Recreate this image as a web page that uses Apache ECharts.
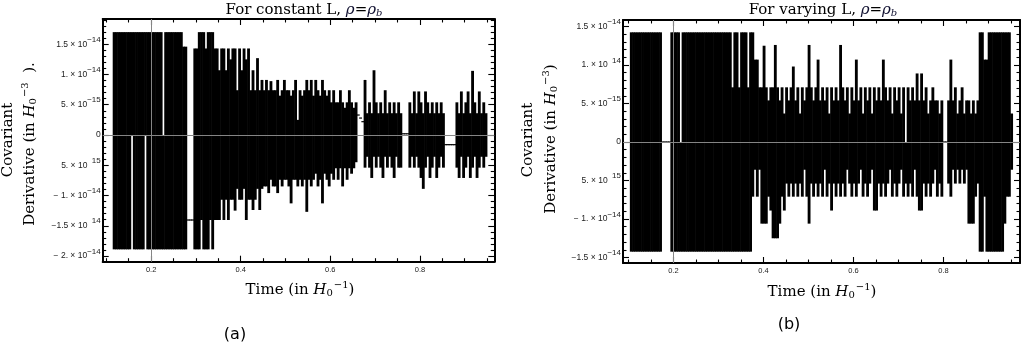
<!DOCTYPE html>
<html><head><meta charset="utf-8">
<script src="https://cdn.jsdelivr.net/npm/echarts/dist/echarts.min.js"></script>
<style>html,body{margin:0;padding:0;background:#fff}#c{width:1029px;height:350px}</style>
</head><body><div id="c"></div>
<script>
// ---------- data (y values in units of 10^-15, H0^-3) ----------
const tStartA = 0.1175, tStepA = 0.005;   // sample times, panel (a)
const tStartB = 0.1064, tStepB = 0.005;   // sample times, panel (b)

// panel (a): upper / lower excursion in each sample window
const upA = [
17,17,17,17,17,17,17,17,17,17,
17,17,17,17,17,17,17,17,17,17,
17,17,0,17,17,17,17,17,17,17,
17,14.6,14.6,-14.05,-14.05,-14.05,14.3,14.3,17,17,
17,14.3,17,17,17,14.3,14.3,10.7,14.3,14.3,
10.7,14.3,12.5,14.3,14.3,7.4,14.3,10.7,14.3,12.5,
14.3,7.4,10.7,7.4,12.7,7.4,9.1,7.4,9.1,7.4,
8.9,7.4,7.4,9.1,6.5,7.4,9.1,7.4,7.4,6.5,
7.4,9.1,2.5,7.4,6.5,7.4,9.1,7.4,9.1,6.5,
9.1,7.4,6.5,9.1,7.4,6.5,7.4,5.4,7.4,5.4,
5.4,7.4,5.4,4.5,5.4,7.4,5.4,4.5,5.4,3.3,
2.8,2.2,9.1,3.6,5.4,3.6,10.7,5.4,3.6,5.4,
3.6,7.4,3.6,5.4,3.6,5.4,3.6,5.4,3.6,0.2,
0.2,0.2,5.4,3.6,7.2,3.6,7.2,5.4,3.6,7.2,
5.4,3.6,5.4,3.6,5.4,3.6,5.4,3.6,-1.6,-1.6,
-1.6,-1.6,-1.6,5.4,3.6,7.2,3.6,5.4,7.2,3.6,
10.6,5.4,3.6,7.2,3.6,5.4,3.6
];
const loA = [
-18.9,-18.9,-18.9,-18.9,-18.9,-18.9,-18.9,-18.9,0,-18.9,
-18.9,-18.9,-18.9,-18.9,0,-18.9,-18.9,-18.9,-18.9,-18.9,
-18.9,-18.9,-18.9,-18.9,-18.9,-18.9,-18.9,-18.9,-18.9,-18.9,
-18.9,-18.9,-18.9,-14.05,-14.05,-14.05,-18.9,-18.9,-18.9,-14.05,
-18.9,-18.9,-18.9,-14.05,-18.9,-14.05,-14.05,-14.05,-10.7,-14.05,
-10.7,-14.05,-10.7,-10.7,-12.5,-8.9,-10.7,-10.7,-8.9,-14.05,
-10.7,-10.7,-12.4,-10.7,-8.9,-12.4,-8.9,-8.5,-8.5,-9.6,
-7.4,-8.5,-8.5,-9.6,-7.4,-8.5,-7.4,-7.4,-8.5,-11.3,
-7.4,-7.4,-8.5,-7.4,-8.5,-7.4,-12.7,-7.4,-8.5,-7.4,
-6.4,-8.5,-7.4,-11.3,-6.4,-7.4,-8.5,-6.4,-7.4,-5.5,
-7.4,-5.5,-8.5,-5.5,-7.4,-5.5,-6.4,-5.5,-4.5,3.3,
2.8,2.2,-5.4,-3.6,-5.4,-7.1,-3.6,-5.4,-3.6,-5.4,
-7.1,-3.6,-5.4,-3.6,-5.4,-7.1,-3.6,-5.4,-5.4,0.2,
0.2,0.2,-5.4,-3.6,-5.4,-3.6,-5.4,-7.1,-8.9,-5.4,
-3.6,-7.1,-5.4,-3.6,-7.1,-5.4,-3.6,-5.4,-1.6,-1.6,
-1.6,-1.6,-1.6,-5.4,-7.1,-3.6,-7.1,-5.4,-3.6,-7.1,
-5.4,-3.6,-7.1,-5.4,-3.6,-5.4,-3.6
];

// panel (b)
const upB = [
14.24,14.24,14.24,14.24,14.24,14.24,14.24,14.24,14.24,14.24,
14.24,14.24,14.24,14.24,0,0,0,0,14.24,14.24,
14.24,14.24,0,14.24,14.24,14.24,14.24,14.24,14.24,14.24,
14.24,14.24,14.24,14.24,14.24,14.24,14.24,14.24,14.24,14.24,
14.24,14.24,14.24,14.24,14.24,7.1,14.24,14.24,7.1,14.24,
14.24,14.24,7.1,14.24,14.24,10.7,10.7,7.1,7.1,12.5,
7.1,5.4,7.1,7.1,12.6,7.1,5.4,7.1,3.7,7.1,
5.4,7.1,9.8,5.4,7.1,3.7,7.1,5.4,7.1,12.6,
7.1,5.4,7.1,10.7,5.4,7.1,5.4,7.1,3.7,7.1,
5.4,7.1,5.4,12.6,7.1,5.4,7.1,3.7,7.1,5.4,
10.7,5.4,7.1,3.7,7.1,5.4,7.1,3.7,7.1,5.4,
7.1,5.4,10.7,7.1,5.4,7.1,3.7,7.1,5.4,7.1,
3.7,7.1,0,7.1,5.4,7.1,5.4,8.9,5.4,8.9,
5.4,7.1,3.7,5.4,7.1,5.4,5.4,3.7,5.4,0,
0,5.4,10.7,5.4,7.1,3.7,5.4,7.1,3.7,5.4,
5.4,3.7,5.4,3.7,5.4,14.24,14.24,10.7,10.7,14.24,
14.24,14.24,14.24,14.24,14.24,14.24,14.24,14.24,14.24,3.7
];
const loB = [
-14.24,-14.24,-14.24,-14.24,-14.24,-14.24,-14.24,-14.24,-14.24,-14.24,
-14.24,-14.24,-14.24,-14.24,0,0,0,0,-14.24,-14.24,
-14.24,-14.24,-14.24,-14.24,-14.24,-14.24,-14.24,-14.24,-14.24,-14.24,
-14.24,-14.24,-14.24,-14.24,-14.24,-14.24,-14.24,-14.24,-14.24,-14.24,
-14.24,-14.24,-14.24,-14.24,-14.24,-14.24,-14.24,-14.24,-14.24,-14.24,
-14.24,-14.24,-14.24,-14.24,-7.1,-3.6,-7.1,-3.6,-10.6,-10.6,
-10.6,-7.1,-8.9,-12.5,-12.5,-12.5,-10.6,-7.1,-8.9,-5.4,
-7.1,-5.4,-7.1,-5.4,-7.1,-5.4,-7.1,-3.6,-7.1,-10.6,
-5.4,-7.1,-5.4,-7.1,-5.4,-7.1,-3.6,-7.1,-5.4,-8.9,
-5.4,-7.1,-5.4,-7.1,-5.4,-7.1,-3.6,-5.4,-7.1,-5.4,
-7.1,-5.4,-3.6,-7.1,-5.4,-7.1,-5.4,-3.6,-8.9,-8.9,
-5.4,-7.1,-5.4,-7.1,-5.4,-3.6,-7.1,-5.4,-7.1,-5.4,
-3.6,-7.1,-5.4,-7.1,-5.4,-7.1,-3.6,-7.1,-8.9,-8.9,
-5.4,-7.1,-5.4,-7.1,-5.4,-3.6,-7.1,-5.4,-7.1,0,
0,-5.4,-7.1,-3.6,-5.4,-3.6,-5.4,-3.6,-5.4,-3.6,
-10.6,-10.6,-10.6,-7.1,-5.4,-14.24,-14.24,-7.1,-14.24,-14.24,
-14.24,-14.24,-14.24,-14.24,-14.24,-14.24,-10.6,-7.1,-7.1,-3.6
];

// ---------- ticks ----------
const xMajorTicks = [0.2, 0.4, 0.6, 0.8];
const xTickLabels = ['0.2', '0.4', '0.6', '0.8'];
const xMinorTicks = [0.1,0.15,0.25,0.3,0.35,0.45,0.5,0.55,0.65,0.7,0.75,0.85,0.9,0.95];

const yTicksA = [15, 10, 5, 0, -5, -10, -15, -20];
const yBaseA  = ['1.5 × 10','1. × 10','5. × 10','0','5. × 10','− 1. × 10','−1.5 × 10','− 2. × 10'];
const yExpA   = ['−14','−14','−15','','  15','−14','  14','−14'];
const yTicksB = [15, 10, 5, 0, -5, -10, -15];
const yBaseB  = ['1.5 × 10','1. × 10','5. × 10','0','5. × 10','− 1. × 10','−1.5 × 10'];
const yExpB   = ['−14','  14','−15','','  15','−14','−14'];

const rangeXA = [0.092, 0.966], rangeYA = [-20.94, 19.17];
const rangeXB = [0.088, 0.970], rangeYB = [-15.71, 15.84];

// ---------- build ----------
function minorY(r) {
  const out = [];
  for (let v = Math.ceil(r[0]); v <= Math.floor(r[1]); v++) if (v % 5 !== 0) out.push(v);
  return out;
}
const SANS = 'Liberation Sans';
const SERIF = 'DejaVu Serif';
const xAxes = [], yAxes = [];
function addAxes(gi, xr, yr, yT, yB, yE) {
  const tickStyle = {color: '#000', width: 1.1};
  const frame = {show: true, onZero: false, lineStyle: {color: '#000', width: 2}};
  const noLine = {show: false, onZero: false};
  const bx = (pos, line, ticks, len, label) => ({
    type: 'value', gridIndex: gi, min: xr[0], max: xr[1], position: pos, silent: true,
    splitLine: {show: false}, axisLine: line,
    axisTick: {show: true, inside: true, length: len, customValues: ticks, lineStyle: tickStyle},
    axisLabel: label ? {show: true, customValues: xMajorTicks, margin: 4, fontSize: 7.5, fontFamily: SANS, color: '#222',
      formatter: v => { const k = xMajorTicks.findIndex(t => Math.abs(t - v) < 1e-9); return k < 0 ? '' : xTickLabels[k]; }} : {show: false}
  });
  const by = (pos, line, ticks, len, label) => ({
    type: 'value', gridIndex: gi, min: yr[0], max: yr[1], position: pos, silent: true,
    splitLine: {show: false}, axisLine: line,
    axisTick: {show: true, inside: true, length: len, customValues: ticks, lineStyle: tickStyle},
    axisLabel: label ? {show: true, customValues: yT, margin: 2, color: '#222',
      formatter: v => { const k = yT.findIndex(t => Math.abs(t - v) < 1e-9); if (k < 0) return '';
        return yE[k] ? '{b|' + yB[k] + '}{e|' + yE[k] + '}' : '{b|' + yB[k] + '}'; },
      rich: {
        b: {fontSize: 8.5, fontFamily: SANS, color: '#222'},
        e: {fontSize: 8, fontFamily: SANS, color: '#222', padding: [0, 0, 9, 0]}
      }} : {show: false}
  });
  const yMin = minorY(yr);
  xAxes.push(bx('bottom', frame, xMajorTicks, 6, true));
  xAxes.push(bx('bottom', noLine, xMinorTicks, 3.5, false));
  xAxes.push(bx('top', frame, xMajorTicks, 6, false));
  xAxes.push(bx('top', noLine, xMinorTicks, 3.5, false));
  yAxes.push(by('left', frame, yT, 6, true));
  yAxes.push(by('left', noLine, yMin, 3.5, false));
  yAxes.push(by('right', frame, yT, 6, false));
  yAxes.push(by('right', noLine, yMin, 3.5, false));
}
addAxes(0, rangeXA, rangeYA, yTicksA, yBaseA, yExpA);
addAxes(1, rangeXB, rangeYB, yTicksB, yBaseB, yExpB);

// each sample window drawn as a black band from its lower to its upper excursion
function bandSeries(xi, t0, dt, up, lo) {
  const data = up.map((v, i) => [t0 + i * dt, lo[i], v]);
  return {
    type: 'custom', xAxisIndex: xi, yAxisIndex: xi, data: data, z: 2, animation: false, silent: true,
    encode: {x: 0, y: [1, 2]},
    renderItem: function (params, api) {
      const t = api.value(0), l = api.value(1), u = api.value(2);
      const pTop = api.coord([t - dt / 2, u]);
      const pBot = api.coord([t + dt / 2, l]);
      let y = pTop[1], h = pBot[1] - pTop[1];
      if (h < 1.2) { y -= (1.2 - h) / 2; h = 1.2; }
      return {type: 'rect', shape: {x: pTop[0] - 0.3, y: y, width: pBot[0] - pTop[0] + 0.6, height: h},
        style: {fill: '#000'}};
    }
  };
}
function refSeries(xi) {
  return {type: 'line', xAxisIndex: xi, yAxisIndex: xi, data: [], z: 5, silent: true, animation: false,
    markLine: {silent: true, symbol: ['none', 'none'], animation: false, label: {show: false},
      emphasis: {disabled: true}, lineStyle: {color: '#858585', width: 1, type: 'solid'},
      data: [{xAxis: 0.2}, {yAxis: 0}]}};
}

const richMath = {
  i: {fontSize: 15, fontFamily: SERIF, fontStyle: 'italic', fill: '#000'},
  sub: {fontSize: 10, fontFamily: SERIF, fill: '#000', padding: [7, 0, 0, 0]},
  sup: {fontSize: 10, fontFamily: SERIF, fill: '#000', padding: [0, 0, 10, 1]}
};
const richTitle = {
  i: {fontSize: 15, fontFamily: SERIF, fontStyle: 'italic', fill: '#101030'},
  sub: {fontSize: 10, fontFamily: SERIF, fontStyle: 'italic', fill: '#101030', padding: [6, 0, 0, 0]}
};
function label(x, y, text, size, rich, rot) {
  return {type: 'text', x: x, y: y, rotation: rot || 0, silent: true,
    style: {text: text, fontSize: size, fontFamily: SERIF, fill: '#000', align: 'center', verticalAlign: 'middle', rich: rich}};
}

const chart = echarts.init(document.getElementById('c'), null, {renderer: 'canvas'});
chart.setOption({
  animation: false,
  backgroundColor: '#fff',
  grid: [
    {left: 102.7, top: 19, width: 391.6, height: 242.7, containLabel: false, outerBoundsMode: 'none'},
    {left: 623, top: 20, width: 397, height: 243, containLabel: false, outerBoundsMode: 'none'}
  ],
  xAxis: xAxes,
  yAxis: yAxes,
  series: [
    bandSeries(0, tStartA, tStepA, upA, loA),
    bandSeries(4, tStartB, tStepB, upB, loB),
    refSeries(0),
    refSeries(4)
  ],
  graphic: [
    label(304, 10, 'For constant L, {i|ρ}={i|ρ}{sub|b}', 15, richTitle),
    label(823, 10, 'For varying L, {i|ρ}={i|ρ}{sub|b}', 15, richTitle),
    label(8, 140, 'Covariant', 15, richMath, Math.PI / 2),
    label(30, 144, 'Derivative (in {i|H}{sub|0}{sup|−3}  ).', 15, richMath, Math.PI / 2),
    label(528, 140, 'Covariant', 15, richMath, Math.PI / 2),
    label(551, 139, 'Derivative (in {i|H}{sub|0}{sup|−3})', 15, richMath, Math.PI / 2),
    label(300, 290, 'Time (in {i|H}{sub|0}{sup|−1})', 15, richMath),
    label(822, 292, 'Time (in {i|H}{sub|0}{sup|−1})', 15, richMath),
    {type: 'text', x: 235, y: 335, silent: true, style: {text: '(a)', fontSize: 16, fontFamily: 'DejaVu Sans', fill: '#000', align: 'center', verticalAlign: 'middle'}},
    {type: 'text', x: 789, y: 325, silent: true, style: {text: '(b)', fontSize: 16, fontFamily: 'DejaVu Sans', fill: '#000', align: 'center', verticalAlign: 'middle'}}
  ]
});
</script></body></html>
